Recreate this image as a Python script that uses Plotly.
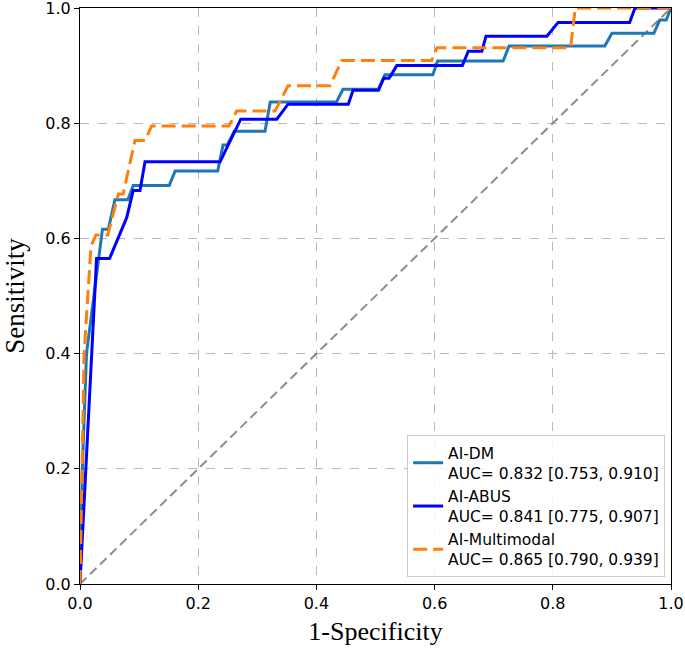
import plotly.graph_objects as go

# ---- data ----
dm_fpr = [0, 0.004, 0.011, 0.038, 0.048, 0.059, 0.081, 0.09, 0.151, 0.161, 0.233, 0.242, 0.249,
          0.261, 0.313, 0.322, 0.434, 0.445, 0.505, 0.516, 0.597, 0.605, 0.716, 0.726, 0.888,
          0.9, 0.971, 0.981, 0.992, 1.0]
dm_tpr = [0, 0.2, 0.4, 0.616, 0.616, 0.667, 0.667, 0.692, 0.692, 0.717, 0.717, 0.762, 0.762,
          0.786, 0.786, 0.837, 0.837, 0.859, 0.859, 0.884, 0.884, 0.908, 0.908, 0.934, 0.934,
          0.956, 0.956, 0.979, 0.979, 1.0]

abus_fpr = [0, 0.005, 0.01, 0.019, 0.028, 0.05, 0.079, 0.09, 0.1015, 0.11, 0.237, 0.272, 0.333,
            0.352, 0.454, 0.462, 0.505, 0.514, 0.523, 0.536, 0.647, 0.657, 0.68, 0.687, 0.79,
            0.809, 0.93, 0.939, 1.0]
abus_tpr = [0, 0.1, 0.22, 0.4, 0.565, 0.565, 0.636, 0.683, 0.683, 0.733, 0.733, 0.807, 0.807,
            0.833, 0.833, 0.857, 0.857, 0.878, 0.878, 0.9, 0.9, 0.925, 0.925, 0.951, 0.951,
            0.975, 0.975, 1.0, 1.0]

mm_fpr = [0, 0.003, 0.007, 0.0186, 0.027, 0.047, 0.065, 0.073, 0.093, 0.11, 0.121, 0.252, 0.265,
          0.33, 0.352, 0.423, 0.443, 0.595, 0.604, 0.83, 0.838, 1.0]
mm_tpr = [0, 0.2, 0.4, 0.587, 0.606, 0.606, 0.677, 0.677, 0.77, 0.77, 0.795, 0.795, 0.821,
          0.821, 0.865, 0.865, 0.909, 0.909, 0.931, 0.931, 1.0, 1.0]

diag_x = [0, 1]
diag_y = [0, 1]

names = ["AI-DM<br>AUC= 0.832 [0.753, 0.910]",
         "AI-ABUS<br>AUC= 0.841 [0.775, 0.907]",
         "AI-Multimodal<br>AUC= 0.865 [0.790, 0.939]"]

tick_vals = [0.0, 0.2, 0.4, 0.6, 0.8, 1.0]
tick_text = ["0.0", "0.2", "0.4", "0.6", "0.8", "1.0"]

fig = go.Figure()
fig.add_trace(go.Scatter(x=diag_x, y=diag_y, mode="lines", showlegend=False,
                         line=dict(color="#8c8c8c", width=2, dash="9px,5px")))
fig.add_trace(go.Scatter(x=dm_fpr, y=dm_tpr, mode="lines", name=names[0],
                         line=dict(color="#1f77b4", width=3)))
fig.add_trace(go.Scatter(x=abus_fpr, y=abus_tpr, mode="lines", name=names[1],
                         line=dict(color="#0000ff", width=3)))
fig.add_trace(go.Scatter(x=mm_fpr, y=mm_tpr, mode="lines", name=names[2],
                         line=dict(color="#ff7f0e", width=3, dash="14px,6px")))

axis_common = dict(
    range=[0, 1], tickvals=tick_vals, ticktext=tick_text,
    showline=True, linecolor="black", linewidth=1.2, mirror=True,
    ticks="outside", ticklen=5, tickwidth=1.2, tickcolor="black",
    showgrid=True, gridcolor="#b8b8b8", gridwidth=1, griddash="dash",
    zeroline=False, automargin=False, ticklabeloverflow="allow",
    tickfont=dict(family="DejaVu Sans", size=16, color="black"),
)

fig.update_xaxes(**axis_common,
                 title=dict(text="1-Specificity", standoff=9,
                            font=dict(family="Liberation Serif", size=26, color="black")))
fig.update_yaxes(**axis_common,
                 title=dict(text="Sensitivity", standoff=16,
                            font=dict(family="Liberation Serif", size=27, color="black")))

fig.update_layout(
    width=685, height=650,
    margin=dict(l=80, r=14, t=8, b=66),
    plot_bgcolor="white", paper_bgcolor="white",
    legend=dict(x=0.99, xanchor="right", y=0.012, yanchor="bottom",
                bgcolor="rgba(255,255,255,0.85)", bordercolor="#cccccc", borderwidth=1,
                font=dict(family="DejaVu Sans", size=15.5, color="black"),
                valign="middle", tracegroupgap=0),
)

fig.write_html("out.html", config={"displayModeBar": False},
               post_script="document.body.style.margin='0px';")
